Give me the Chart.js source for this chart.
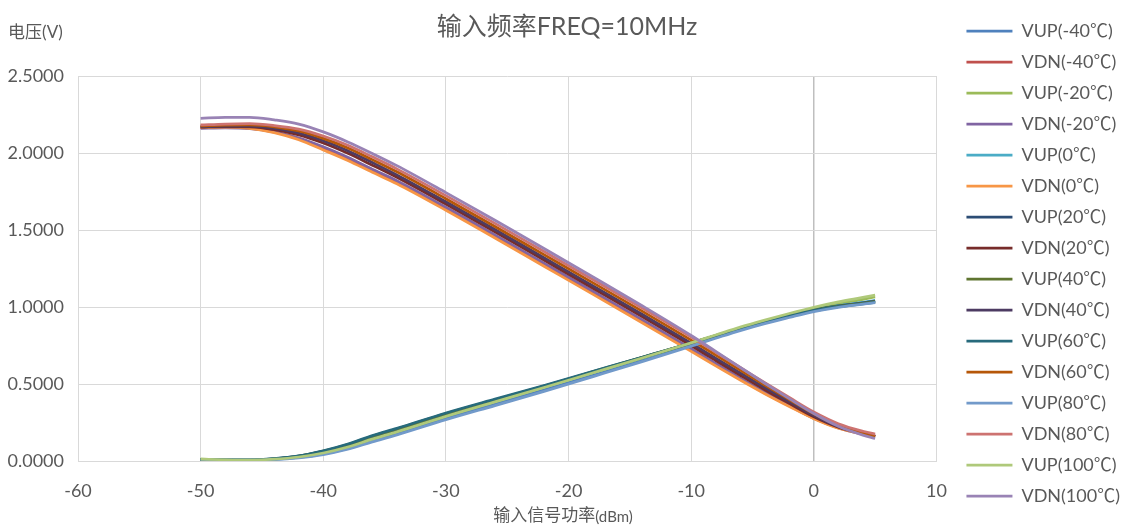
<!DOCTYPE html>
<html>
<head>
<meta charset="utf-8">
<script src="https://cdn.jsdelivr.net/npm/chart.js@4.4.0/dist/chart.umd.min.js"></script>
<style>
  html, body { margin: 0; background: #fff; }
  #wrap { width: 1126px; height: 527px; }
</style>
</head>
<body>
<div id="wrap"><canvas id="c" width="1126" height="527"></canvas></div>
<script>
// input power (dBm)
const powerDbm = [-50, -48, -46, -44, -42, -40, -38, -36, -34, -30, -26, -22, -18, -14, -10, -8, -6, -4, -2, 0, 2, 4, 5];

// VUP / VDN per temperature (V)
const VUP_N40 = [0.010, 0.006, 0.005, 0.010, 0.023, 0.046, 0.082, 0.130, 0.176, 0.278, 0.370, 0.462, 0.557, 0.653, 0.752, 0.802, 0.852, 0.897, 0.937, 0.975, 1.003, 1.026, 1.040];
const VDN_N40 = [2.165, 2.168, 2.162, 2.138, 2.095, 2.030, 1.962, 1.885, 1.810, 1.638, 1.458, 1.275, 1.092, 0.908, 0.720, 0.625, 0.532, 0.442, 0.358, 0.278, 0.218, 0.180, 0.166];
const VUP_N20 = [0.012, 0.008, 0.006, 0.013, 0.028, 0.055, 0.095, 0.146, 0.193, 0.294, 0.387, 0.479, 0.574, 0.669, 0.765, 0.815, 0.864, 0.909, 0.950, 0.990, 1.022, 1.050, 1.066];
const VDN_N20 = [2.160, 2.163, 2.158, 2.136, 2.097, 2.040, 1.972, 1.895, 1.820, 1.648, 1.468, 1.285, 1.102, 0.918, 0.730, 0.633, 0.538, 0.446, 0.360, 0.278, 0.215, 0.175, 0.160];
const VUP_0 = [0.010, 0.006, 0.005, 0.013, 0.029, 0.058, 0.099, 0.151, 0.198, 0.298, 0.390, 0.481, 0.575, 0.669, 0.763, 0.812, 0.860, 0.904, 0.943, 0.982, 1.009, 1.030, 1.042];
const VDN_0 = [2.165, 2.168, 2.160, 2.132, 2.086, 2.020, 1.952, 1.875, 1.800, 1.628, 1.448, 1.265, 1.082, 0.898, 0.712, 0.618, 0.526, 0.437, 0.354, 0.275, 0.213, 0.174, 0.158];
const VUP_20 = [0.010, 0.006, 0.006, 0.014, 0.031, 0.062, 0.104, 0.157, 0.204, 0.304, 0.395, 0.485, 0.578, 0.671, 0.764, 0.813, 0.861, 0.904, 0.943, 0.981, 1.007, 1.027, 1.038];
const VDN_20 = [2.168, 2.172, 2.170, 2.152, 2.118, 2.065, 1.998, 1.921, 1.842, 1.668, 1.488, 1.305, 1.122, 0.938, 0.750, 0.653, 0.557, 0.463, 0.374, 0.287, 0.220, 0.178, 0.160];
const VUP_40 = [0.010, 0.006, 0.006, 0.014, 0.032, 0.064, 0.107, 0.161, 0.208, 0.308, 0.398, 0.487, 0.580, 0.673, 0.765, 0.815, 0.862, 0.905, 0.943, 0.980, 1.005, 1.024, 1.035];
const VDN_40 = [2.170, 2.175, 2.175, 2.160, 2.130, 2.080, 2.015, 1.938, 1.858, 1.683, 1.503, 1.320, 1.137, 0.953, 0.765, 0.668, 0.572, 0.477, 0.386, 0.296, 0.225, 0.180, 0.160];
const VUP_60 = [0.010, 0.006, 0.006, 0.015, 0.033, 0.066, 0.110, 0.165, 0.212, 0.312, 0.402, 0.490, 0.582, 0.674, 0.765, 0.815, 0.862, 0.905, 0.942, 0.978, 1.002, 1.020, 1.030];
const VDN_60 = [2.176, 2.181, 2.182, 2.170, 2.143, 2.095, 2.033, 1.957, 1.878, 1.703, 1.523, 1.340, 1.157, 0.973, 0.785, 0.688, 0.590, 0.493, 0.399, 0.306, 0.230, 0.180, 0.158];
const VUP_80 = [0.010, 0.006, 0.005, 0.009, 0.021, 0.042, 0.077, 0.124, 0.169, 0.268, 0.360, 0.452, 0.548, 0.645, 0.746, 0.797, 0.847, 0.892, 0.932, 0.970, 0.998, 1.018, 1.028];
const VDN_80 = [2.182, 2.188, 2.190, 2.178, 2.155, 2.110, 2.050, 1.975, 1.897, 1.723, 1.543, 1.360, 1.177, 0.993, 0.805, 0.706, 0.607, 0.508, 0.412, 0.318, 0.242, 0.193, 0.175];
const VUP_100 = [0.012, 0.008, 0.006, 0.012, 0.026, 0.052, 0.091, 0.142, 0.189, 0.290, 0.384, 0.477, 0.573, 0.669, 0.767, 0.818, 0.869, 0.915, 0.958, 0.998, 1.033, 1.062, 1.077];
const VDN_100 = [2.225, 2.232, 2.232, 2.215, 2.188, 2.137, 2.072, 1.997, 1.918, 1.743, 1.563, 1.380, 1.195, 1.008, 0.815, 0.712, 0.608, 0.505, 0.405, 0.308, 0.225, 0.168, 0.146];

const seriesNames = ['VUP(-40℃)', 'VDN(-40℃)', 'VUP(-20℃)', 'VDN(-20℃)', 'VUP(0℃)', 'VDN(0℃)', 'VUP(20℃)', 'VDN(20℃)',
  'VUP(40℃)', 'VDN(40℃)', 'VUP(60℃)', 'VDN(60℃)', 'VUP(80℃)', 'VDN(80℃)', 'VUP(100℃)', 'VDN(100℃)'];
const seriesValues = [VUP_N40, VDN_N40, VUP_N20, VDN_N20, VUP_0, VDN_0, VUP_20, VDN_20,
  VUP_40, VDN_40, VUP_60, VDN_60, VUP_80, VDN_80, VUP_100, VDN_100];
const seriesColors = ['#4F81BD', '#C0504D', '#9BBB59', '#8064A2', '#4BACC6', '#F79646', '#2C4D75', '#772C2A',
  '#5F7530', '#4D3B62', '#276A7C', '#B65708', '#729ACA', '#CD7371', '#AFC97A', '#9983B5'];

const xTicks = [-60, -50, -40, -30, -20, -10, 0, 10];
const yTicks = [0, 0.5, 1, 1.5, 2, 2.5];

const FONT = 'Lato, "Noto Sans CJK SC", sans-serif';
const TXT = '#595959';

// chart title and axis titles drawn as text (title centred on the canvas,
// y title sits horizontally above the axis)
const chartTexts = {
  id: 'chartTexts',
  afterDraw(chart) {
    const ctx = chart.ctx;
    ctx.save();
    ctx.fillStyle = TXT;
    ctx.textBaseline = 'middle';
    ctx.textAlign = 'center';
    ctx.font = '25px ' + FONT;
    ctx.fillText('输入频率FREQ=10MHz', 567, 27);

    ctx.textAlign = 'left';
    ctx.font = '17px ' + FONT;
    ctx.fillText('电压(V)', 8, 33);

    const a = '输入信号功率', b = '(dBm)';
    ctx.font = '17px ' + FONT;
    const wa = ctx.measureText(a).width;
    ctx.font = '15px ' + FONT;
    const wb = ctx.measureText(b).width;
    const x0 = 563 - (wa + wb) / 2;
    ctx.font = '17px ' + FONT;
    ctx.fillText(a, x0, 516);
    ctx.font = '15px ' + FONT;
    ctx.fillText(b, x0 + wa, 517);
    ctx.restore();
  }
};

const datasets = seriesNames.map((name, i) => ({
  label: name,
  data: powerDbm.map((x, j) => ({ x, y: seriesValues[i][j] })),
  borderColor: seriesColors[i],
  backgroundColor: seriesColors[i],
  borderWidth: 2.75,
  pointRadius: 0,
  cubicInterpolationMode: 'monotone',
  fill: false,
  order: 100 - i
}));

new Chart(document.getElementById('c'), {
  type: 'line',
  data: { datasets },
  plugins: [chartTexts],
  options: {
    responsive: false,
    animation: false,
    layout: { padding: { left: 8, right: -4, top: 0, bottom: 0 } },
    plugins: {
      tooltip: { enabled: false },
      // spacer only: real title is drawn centred on the canvas above
      title: {
        display: true,
        text: ' ',
        fullSize: false,
        font: { family: FONT, size: 25 },
        padding: { top: 16, bottom: 30 }
      },
      legend: {
        position: 'right',
        fullSize: true,
        labels: {
          color: TXT,
          font: { family: FONT, size: 18 },
          usePointStyle: true,
          pointStyle: 'line',
          pointStyleWidth: 46,
          padding: 13,
          sort: (a, b) => a.datasetIndex - b.datasetIndex
        }
      }
    },
    scales: {
      x: {
        type: 'linear',
        min: -60, max: 10,
        afterBuildTicks: (s) => { s.ticks = xTicks.map(v => ({ value: v })); },
        afterFit: (s) => { s.height = 66; },
        grid: {
          color: (c) => c.tick && c.tick.value === 0 ? '#bfbfbf' : '#d9d9d9',
          lineWidth: (c) => c.tick && c.tick.value === 0 ? 1.5 : 1,
          drawTicks: false
        },
        border: { color: '#d9d9d9' },
        ticks: { color: TXT, font: { family: FONT, size: 18 }, padding: 19 }
      },
      y: {
        min: 0, max: 2.5,
        afterBuildTicks: (s) => { s.ticks = yTicks.map(v => ({ value: v })); },
        afterFit: (s) => { s.width = 70; },
        grid: { color: '#d9d9d9', lineWidth: 1, drawTicks: false },
        border: { color: '#d9d9d9' },
        ticks: {
          color: TXT, font: { family: FONT, size: 18 }, padding: 14,
          callback: (v) => v.toFixed(4)
        }
      },
      // empty gap between plot area and legend
      gap: {
        position: 'right',
        display: true,
        grid: { display: false },
        border: { display: false },
        ticks: { display: false },
        afterFit: (s) => { s.width = 17; }
      }
    }
  }
});
</script>
</body>
</html>
